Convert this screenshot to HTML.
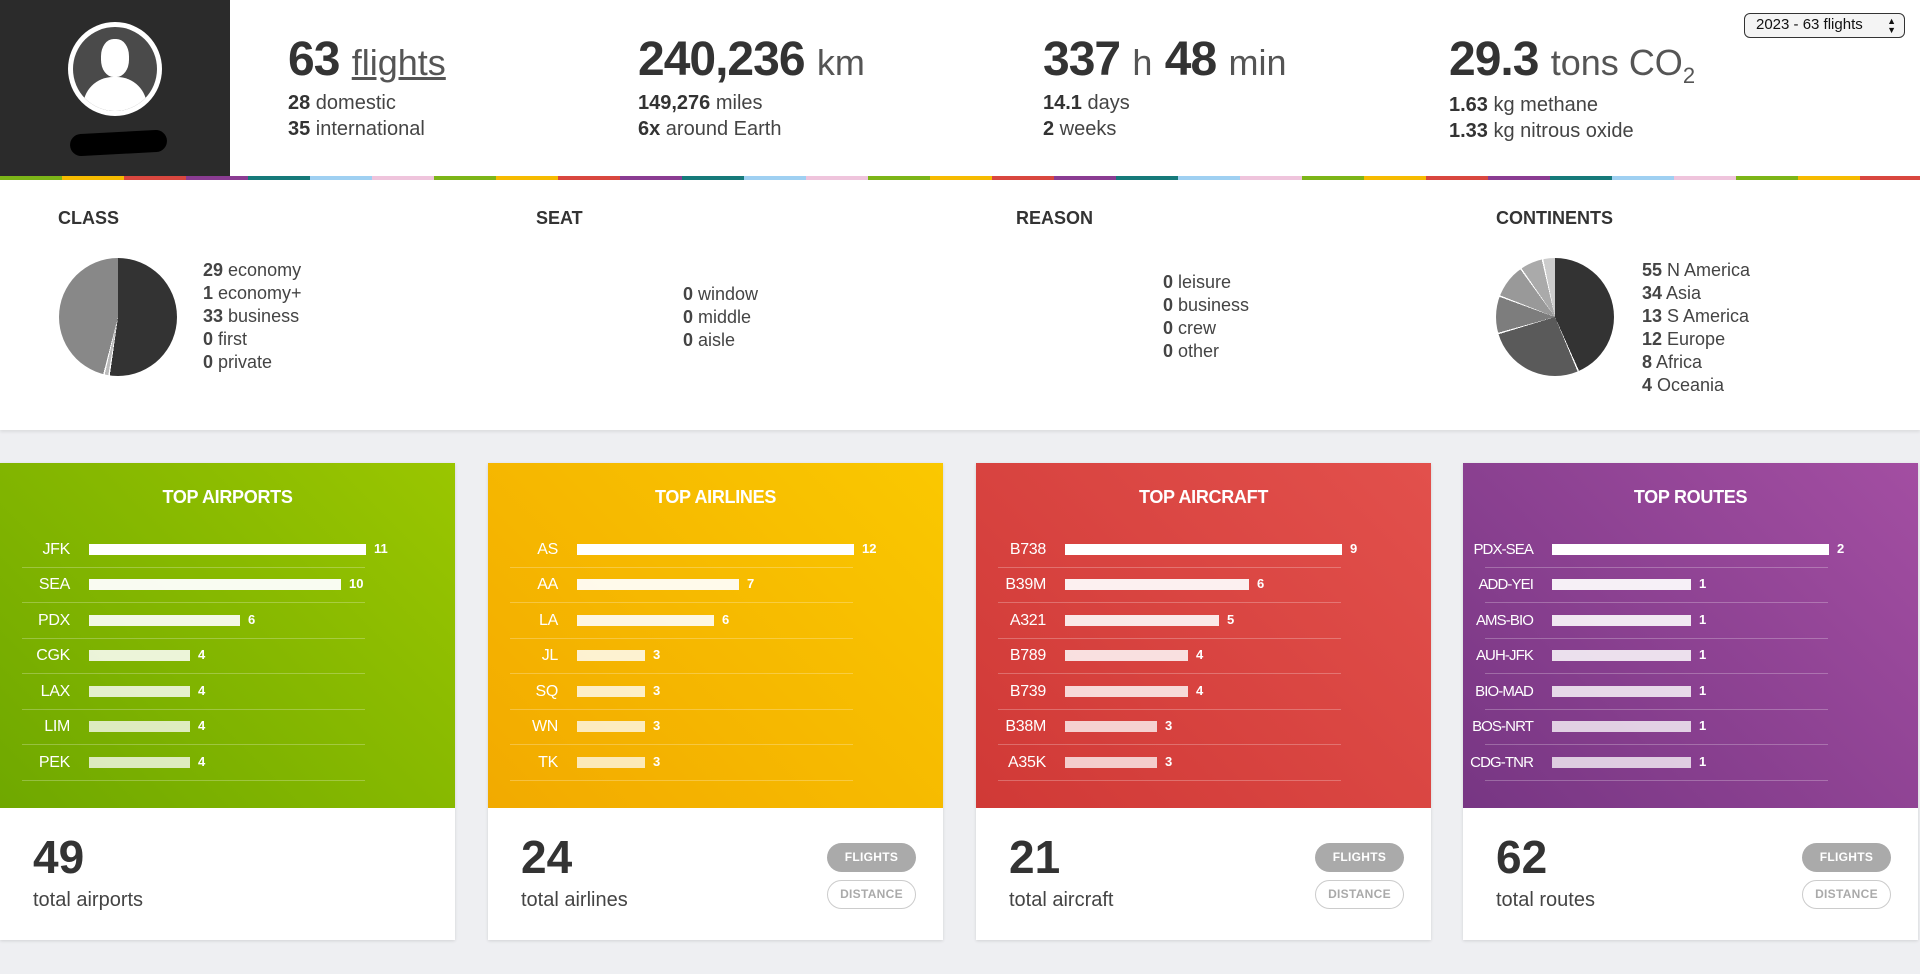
<!DOCTYPE html>
<html><head><meta charset="utf-8">
<style>
*{margin:0;padding:0;box-sizing:border-box}
body{width:1920px;height:974px;background:#eeeff2;font-family:"Liberation Sans",sans-serif;color:#333;position:relative;overflow:hidden}
.abs{position:absolute}
#top{left:0;top:0;width:1920px;height:176px;background:#fff}
#dark{left:0;top:0;width:230px;height:176px;background:#2b2b2b}
#cbar{left:0;top:176px;width:1920px;height:4px;background:repeating-linear-gradient(90deg,#7cb518 0 62px,#f6bb00 62px 124px,#d9473f 124px 186px,#8a3c92 186px 248px,#167a7a 248px 310px,#9fd0f2 310px 372px,#efc4dc 372px 434px)}
.big{font-size:48px;font-weight:bold;letter-spacing:-1px;color:#333;white-space:nowrap}
.big span{font-weight:normal;font-size:36px;color:#555;letter-spacing:0}
.sub{font-size:20px;line-height:26px;color:#444;white-space:nowrap}
.sub b{color:#333}
#mid{left:0;top:180px;width:1920px;height:250px;background:#fff;box-shadow:0 2px 3px rgba(0,0,0,.08)}
.h{font-size:18px;font-weight:bold;color:#333;top:208px}
.lg{font-size:18px;line-height:23px;color:#444;white-space:nowrap}
.card{top:463px;width:455px;height:477px;background:#fff;box-shadow:0 1px 3px rgba(0,0,0,.12)}
.ctop{position:absolute;left:0;top:0;width:455px;height:345px}
.ct{position:absolute;top:24px;width:100%;text-align:center;color:#fff;font-weight:bold;font-size:18px;letter-spacing:-.3px}
.row{position:absolute;left:22px;width:343px;height:35px;border-bottom:1px solid rgba(255,255,255,.25)}
.row .l{position:absolute;right:295px;top:8px;color:#fff;font-size:16px;text-align:right;white-space:nowrap;letter-spacing:-.3px}
.rt .row .l{font-size:15px;letter-spacing:-.9px}
.row .b{position:absolute;left:67px;top:11px;height:11px;background:#fff}
.row .n{position:absolute;top:8px;color:#fff;font-size:13px;font-weight:bold}
.num{position:absolute;left:33px;top:367px;font-size:46px;font-weight:bold;color:#333}
.tot{position:absolute;left:33px;top:426px;font-size:20px;color:#444}
.btn{position:absolute;left:339px;width:89px;height:29px;border-radius:15px;font-size:12px;font-weight:bold;text-align:center;line-height:29px;letter-spacing:.3px}
.b1{top:380px;background:#aaa;color:#fff}
.b2{top:417px;border:1.5px solid #ccc;color:#aaa;line-height:26px}
</style></head><body>
<div id="top" class="abs"></div>
<div id="dark" class="abs">
 <div class="abs" style="left:68px;top:22px;width:94px;height:94px;border-radius:50%;background:#fff"></div>
 <div class="abs" style="left:73px;top:27px;width:84px;height:84px;border-radius:50%;background:#4a4a4a;overflow:hidden">
  <div class="abs" style="left:28px;top:12px;width:28px;height:38px;border-radius:45%;background:#fff"></div>
  <div class="abs" style="left:10px;top:50px;width:64px;height:40px;border-radius:30px 30px 0 0;background:#fff"></div>
 </div>
 <div class="abs" style="left:70px;top:132px;width:97px;height:22px;border-radius:12px;background:#000;transform:rotate(-3deg)"></div>
</div>
<div class="abs" style="left:1744px;top:13px;width:161px;height:25px;border:1.5px solid #333;border-radius:6px;background:#f4f4f4;font-size:15px;line-height:22px;padding-left:11px;color:#111">2023 - 63 flights <span style="position:absolute;right:8px;top:0;font-size:9px;line-height:9px;padding-top:3px">▲<br>▼</span></div>

<div class="abs big" style="left:288px;top:32px">63 <span style="text-decoration:underline">flights</span></div>
<div class="abs sub" style="left:288px;top:90px"><b>28</b> domestic<br><b>35</b> international</div>
<div class="abs big" style="left:638px;top:32px">240,236 <span>km</span></div>
<div class="abs sub" style="left:638px;top:90px"><b>149,276</b> miles<br><b>6x</b> around Earth</div>
<div class="abs big" style="left:1043px;top:32px">337 <span>h</span> 48 <span>min</span></div>
<div class="abs sub" style="left:1043px;top:90px"><b>14.1</b> days<br><b>2</b> weeks</div>
<div class="abs big" style="left:1449px;top:32px">29.3 <span>tons CO<sub style="font-size:22px">2</sub></span></div>
<div class="abs sub" style="left:1449px;top:92px"><b>1.63</b> kg methane<br><b>1.33</b> kg nitrous oxide</div>
<div id="cbar" class="abs"></div>

<div id="mid" class="abs"></div>
<div class="abs h" style="left:58px">CLASS</div>
<div class="abs h" style="left:536px">SEAT</div>
<div class="abs h" style="left:1016px">REASON</div>
<div class="abs h" style="left:1496px">CONTINENTS</div>
<div class="abs" style="left:59px;top:258px;width:118px;height:118px;border-radius:50%;background:conic-gradient(#333 0 188deg,#fff 188deg 189.5deg,#bbb 189.5deg 193deg,#fff 193deg 194.5deg,#888 194.5deg 360deg)"></div>
<div class="abs lg" style="left:203px;top:259px"><b>29</b> economy<br><b>1</b> economy+<br><b>33</b> business<br><b>0</b> first<br><b>0</b> private</div>
<div class="abs lg" style="left:683px;top:283px"><b>0</b> window<br><b>0</b> middle<br><b>0</b> aisle</div>
<div class="abs lg" style="left:1163px;top:271px"><b>0</b> leisure<br><b>0</b> business<br><b>0</b> crew<br><b>0</b> other</div>
<div class="abs" style="left:1496px;top:258px;width:118px;height:118px;border-radius:50%;background:conic-gradient(#333 0 156deg,#fff 156deg 157.5deg,#5a5a5a 157.5deg 253deg,#fff 253deg 254.5deg,#7d7d7d 254.5deg 290deg,#fff 290deg 291.5deg,#999 291.5deg 324deg,#fff 324deg 325.5deg,#aaa 325.5deg 347deg,#fff 347deg 348.5deg,#ccc 348.5deg 360deg)"></div>
<div class="abs lg" style="left:1642px;top:259px"><b>55</b> N America<br><b>34</b> Asia<br><b>13</b> S America<br><b>12</b> Europe<br><b>8</b> Africa<br><b>4</b> Oceania</div>

<!-- cards -->
<div class="abs card" style="left:0">
 <div class="ctop" style="background:linear-gradient(225deg,#9ac600,#6fa800)">
  <div class="ct">TOP AIRPORTS</div>
  <div class="row" style="top:70px"><div class="l">JFK</div><div class="b" style="width:277px"></div><div class="n" style="left:352px">11</div></div>
  <div class="row" style="top:105px"><div class="l">SEA</div><div class="b" style="width:252px;opacity:.95"></div><div class="n" style="left:327px">10</div></div>
  <div class="row" style="top:141px"><div class="l">PDX</div><div class="b" style="width:151px;opacity:.9"></div><div class="n" style="left:226px">6</div></div>
  <div class="row" style="top:176px"><div class="l">CGK</div><div class="b" style="width:101px;opacity:.85"></div><div class="n" style="left:176px">4</div></div>
  <div class="row" style="top:212px"><div class="l">LAX</div><div class="b" style="width:101px;opacity:.8"></div><div class="n" style="left:176px">4</div></div>
  <div class="row" style="top:247px"><div class="l">LIM</div><div class="b" style="width:101px;opacity:.75"></div><div class="n" style="left:176px">4</div></div>
  <div class="row" style="top:283px"><div class="l">PEK</div><div class="b" style="width:101px;opacity:.75"></div><div class="n" style="left:176px">4</div></div>
 </div>
 <div class="num">49</div><div class="tot">total airports</div>
</div>
<div class="abs card" style="left:488px">
 <div class="ctop" style="background:linear-gradient(225deg,#fac800,#f2aa00)">
  <div class="ct">TOP AIRLINES</div>
  <div class="row" style="top:70px"><div class="l">AS</div><div class="b" style="width:277px"></div><div class="n" style="left:352px">12</div></div>
  <div class="row" style="top:105px"><div class="l">AA</div><div class="b" style="width:162px;opacity:.92"></div><div class="n" style="left:237px">7</div></div>
  <div class="row" style="top:141px"><div class="l">LA</div><div class="b" style="width:137px;opacity:.88"></div><div class="n" style="left:212px">6</div></div>
  <div class="row" style="top:176px"><div class="l">JL</div><div class="b" style="width:68px;opacity:.82"></div><div class="n" style="left:143px">3</div></div>
  <div class="row" style="top:212px"><div class="l">SQ</div><div class="b" style="width:68px;opacity:.78"></div><div class="n" style="left:143px">3</div></div>
  <div class="row" style="top:247px"><div class="l">WN</div><div class="b" style="width:68px;opacity:.75"></div><div class="n" style="left:143px">3</div></div>
  <div class="row" style="top:283px"><div class="l">TK</div><div class="b" style="width:68px;opacity:.72"></div><div class="n" style="left:143px">3</div></div>
 </div>
 <div class="num">24</div><div class="tot">total airlines</div>
 <div class="btn b1">FLIGHTS</div><div class="btn b2">DISTANCE</div>
</div>
<div class="abs card" style="left:976px">
 <div class="ctop" style="background:linear-gradient(225deg,#e2504c,#d03936)">
  <div class="ct">TOP AIRCRAFT</div>
  <div class="row" style="top:70px"><div class="l">B738</div><div class="b" style="width:277px"></div><div class="n" style="left:352px">9</div></div>
  <div class="row" style="top:105px"><div class="l">B39M</div><div class="b" style="width:184px;opacity:.92"></div><div class="n" style="left:259px">6</div></div>
  <div class="row" style="top:141px"><div class="l">A321</div><div class="b" style="width:154px;opacity:.88"></div><div class="n" style="left:229px">5</div></div>
  <div class="row" style="top:176px"><div class="l">B789</div><div class="b" style="width:123px;opacity:.84"></div><div class="n" style="left:198px">4</div></div>
  <div class="row" style="top:212px"><div class="l">B739</div><div class="b" style="width:123px;opacity:.8"></div><div class="n" style="left:198px">4</div></div>
  <div class="row" style="top:247px"><div class="l">B38M</div><div class="b" style="width:92px;opacity:.76"></div><div class="n" style="left:167px">3</div></div>
  <div class="row" style="top:283px"><div class="l">A35K</div><div class="b" style="width:92px;opacity:.74"></div><div class="n" style="left:167px">3</div></div>
 </div>
 <div class="num">21</div><div class="tot">total aircraft</div>
 <div class="btn b1">FLIGHTS</div><div class="btn b2">DISTANCE</div>
</div>
<div class="abs card rt" style="left:1463px">
 <div class="ctop" style="background:linear-gradient(225deg,#a34ea2,#773683)">
  <div class="ct">TOP ROUTES</div>
  <div class="row" style="top:70px"><div class="l">PDX-SEA</div><div class="b" style="width:277px"></div><div class="n" style="left:352px">2</div></div>
  <div class="row" style="top:105px"><div class="l">ADD-YEI</div><div class="b" style="width:139px;opacity:.92"></div><div class="n" style="left:214px">1</div></div>
  <div class="row" style="top:141px"><div class="l">AMS-BIO</div><div class="b" style="width:139px;opacity:.88"></div><div class="n" style="left:214px">1</div></div>
  <div class="row" style="top:176px"><div class="l">AUH-JFK</div><div class="b" style="width:139px;opacity:.84"></div><div class="n" style="left:214px">1</div></div>
  <div class="row" style="top:212px"><div class="l">BIO-MAD</div><div class="b" style="width:139px;opacity:.8"></div><div class="n" style="left:214px">1</div></div>
  <div class="row" style="top:247px"><div class="l">BOS-NRT</div><div class="b" style="width:139px;opacity:.76"></div><div class="n" style="left:214px">1</div></div>
  <div class="row" style="top:283px"><div class="l">CDG-TNR</div><div class="b" style="width:139px;opacity:.74"></div><div class="n" style="left:214px">1</div></div>
 </div>
 <div class="num">62</div><div class="tot">total routes</div>
 <div class="btn b1">FLIGHTS</div><div class="btn b2">DISTANCE</div>
</div>
</body></html>
